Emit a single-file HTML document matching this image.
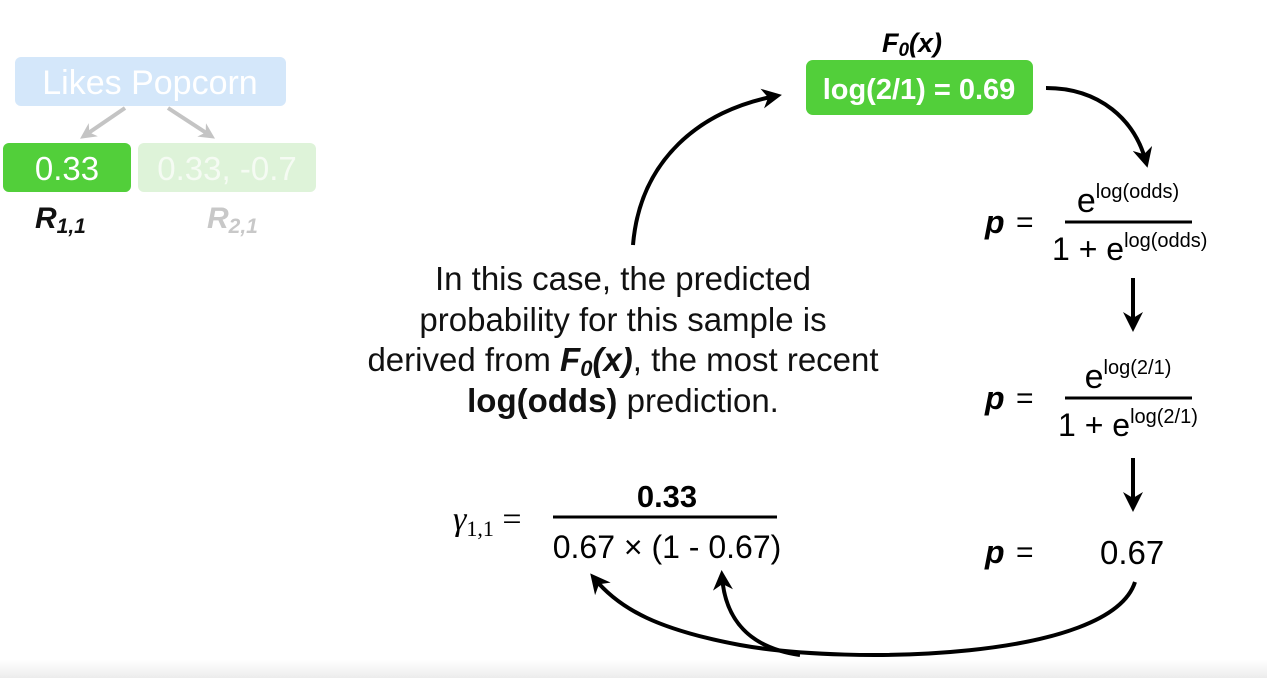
<!DOCTYPE html>
<html><head><meta charset="utf-8"><style>
html,body{margin:0;padding:0;background:#fff;}
svg{display:block;font-family:"Liberation Sans",sans-serif;}
</style></head><body>
<svg width="1267" height="678" viewBox="0 0 1267 678">
<defs>
<marker id="ah" viewBox="0 0 10 10" refX="7" refY="5" markerWidth="5" markerHeight="5" orient="auto-start-reverse"><path d="M0,0 L10,5 L0,10 L3,5 z" fill="#000"/></marker>
<marker id="ahg" viewBox="0 0 10 10" refX="7" refY="5" markerWidth="4" markerHeight="4" orient="auto"><path d="M0,0 L10,5 L0,10 L3,5 z" fill="#c4c4c4"/></marker>
<linearGradient id="bot" x1="0" y1="0" x2="0" y2="1"><stop offset="0" stop-color="#fff"/><stop offset="1" stop-color="#ececec"/></linearGradient>
</defs>
<rect x="0" y="660" width="1267" height="18" fill="url(#bot)"/>
<g>
<rect x="15" y="57" width="271" height="49" rx="6" fill="#d4e7fa"/>
<text x="150" y="94" font-size="34" fill="#fff" text-anchor="middle">Likes Popcorn</text>
<line x1="125" y1="108" x2="84" y2="136" stroke="#c4c4c4" stroke-width="4" marker-end="url(#ahg)"/>
<line x1="168" y1="108" x2="211" y2="136" stroke="#c4c4c4" stroke-width="4" marker-end="url(#ahg)"/>
<rect x="3" y="143" width="128" height="49" rx="6" fill="#52cf3a"/>
<text x="67" y="180" font-size="33" fill="#fff" text-anchor="middle">0.33</text>
<rect x="138" y="143" width="178" height="49" rx="6" fill="#def3d9"/>
<text x="227" y="180" font-size="33" fill="#f5fbf3" text-anchor="middle">0.33, -0.7</text>
<text x="35" y="228" font-size="30" font-weight="bold" font-style="italic" fill="#111">R<tspan font-size="21" dy="5">1,1</tspan></text>
<text x="207" y="228" font-size="30" font-weight="bold" font-style="italic" fill="#c8c8c8">R<tspan font-size="21" dy="5">2,1</tspan></text>
</g>
<text x="912" y="52" font-size="27" font-weight="bold" font-style="italic" text-anchor="middle">F<tspan font-size="19" dy="4">0</tspan><tspan dy="-4">(x)</tspan></text>
<rect x="806" y="60" width="227" height="55" rx="7" fill="#52cf3a"/>
<text x="919" y="99" font-size="29" font-weight="bold" fill="#fff" text-anchor="middle">log(2/1) = 0.69</text>
<path d="M1046,88 C1100,88 1135,120 1146,162" fill="none" stroke="#000" stroke-width="4" marker-end="url(#ah)"/>
<g>
<text x="985" y="233" font-size="32" font-weight="bold" font-style="italic">p</text>
<text x="1016" y="232" font-size="30">=</text>
<line x1="1065" y1="222" x2="1192" y2="222" stroke="#000" stroke-width="3"/>
<text x="1128" y="212" font-size="34" text-anchor="middle">e<tspan font-size="20" dy="-14">log(odds)</tspan></text>
<text x="1052" y="260" font-size="32">1 + e<tspan font-size="20" dy="-13">log(odds)</tspan></text>
</g>
<line x1="1133" y1="278" x2="1133" y2="326" stroke="#000" stroke-width="4" marker-end="url(#ah)"/>
<g>
<text x="985" y="409" font-size="32" font-weight="bold" font-style="italic">p</text>
<text x="1016" y="408" font-size="30">=</text>
<line x1="1065" y1="398" x2="1192" y2="398" stroke="#000" stroke-width="3"/>
<text x="1128" y="388" font-size="34" text-anchor="middle">e<tspan font-size="20" dy="-14">log(2/1)</tspan></text>
<text x="1058" y="436" font-size="32">1 + e<tspan font-size="20" dy="-13">log(2/1)</tspan></text>
</g>
<line x1="1133" y1="458" x2="1133" y2="506" stroke="#000" stroke-width="4" marker-end="url(#ah)"/>
<g>
<text x="985" y="563" font-size="32" font-weight="bold" font-style="italic">p</text>
<text x="1016" y="562" font-size="30">=</text>
<text x="1100" y="564" font-size="33">0.67</text>
</g>
<path d="M1135,582 C1110,660 850,665 740,645 C660,630 620,610 594,578" fill="none" stroke="#000" stroke-width="4" marker-end="url(#ah)"/>
<path d="M800,655 C750,648 725,620 722,576" fill="none" stroke="#000" stroke-width="4" marker-end="url(#ah)"/>
<path d="M633,245 C640,160 700,110 776,96" fill="none" stroke="#000" stroke-width="4" marker-end="url(#ah)"/>
<g font-size="33" text-anchor="middle" fill="#111">
<text x="623" y="290">In this case, the predicted</text>
<text x="623" y="331">probability for this sample is</text>
<text x="623" y="371">derived from <tspan font-weight="bold" font-style="italic">F<tspan font-size="22" dy="5">0</tspan><tspan dy="-5">(x)</tspan></tspan>, the most recent</text>
<text x="623" y="412"><tspan font-weight="bold">log(odds)</tspan> prediction.</text>
</g>
<g>
<text x="453" y="530" font-size="34" font-family="Liberation Serif,serif" font-style="italic">γ<tspan font-size="22" dy="6" font-style="normal">1,1</tspan><tspan dy="-6" font-style="normal"> =</tspan></text>
<line x1="553" y1="517" x2="777" y2="517" stroke="#000" stroke-width="3"/>
<text x="667" y="507" font-size="31" font-weight="bold" text-anchor="middle">0.33</text>
<text x="667" y="558" font-size="32" text-anchor="middle">0.67 × (1 - 0.67)</text>
</g>
</svg>
</body></html>
